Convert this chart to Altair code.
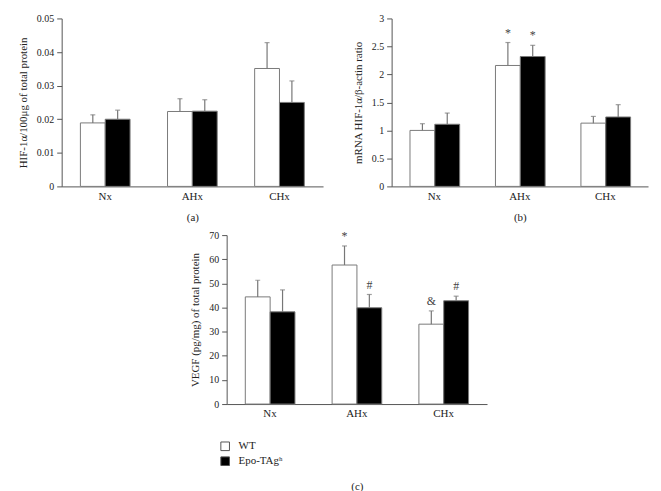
import altair as alt
import pandas as pd

groups = ["Nx", "AHx", "CHx"]
series = ["WT", "Epo-TAgʰ"]

# Panel (a): HIF-1α protein
a_wt = [0.0189, 0.0223, 0.0351]
a_wt_err = [0.0213, 0.0261, 0.0428]
a_epo = [0.0200, 0.0224, 0.0250]
a_epo_err = [0.0227, 0.0258, 0.0314]
a_wt_mark = ["", "", ""]
a_epo_mark = ["", "", ""]

# Panel (b): mRNA HIF-1α/β-actin
b_wt = [1.00, 2.16, 1.13]
b_wt_err = [1.12, 2.57, 1.25]
b_epo = [1.11, 2.32, 1.24]
b_epo_err = [1.31, 2.52, 1.46]
b_wt_mark = ["", "*", ""]
b_epo_mark = ["", "*", ""]

# Panel (c): VEGF
c_wt = [44.4, 57.6, 33.1]
c_wt_err = [51.3, 65.5, 38.6]
c_epo = [38.2, 39.9, 42.8]
c_epo_err = [47.3, 45.4, 44.7]
c_wt_mark = ["", "*", "&"]
c_epo_mark = ["", "#", "#"]

FONT = "Liberation Serif"
TXT = "#222"
AX = "#555"


def make_df(wt, wt_err, epo, epo_err, wt_mark, epo_mark):
    rows = []
    for i, g in enumerate(groups):
        rows.append({"group": g, "series": series[0], "value": wt[i], "upper": wt_err[i], "mark": wt_mark[i]})
        rows.append({"group": g, "series": series[1], "value": epo[i], "upper": epo_err[i], "mark": epo_mark[i]})
    return pd.DataFrame(rows)


def panel(df, ymax, step, ytitle, caption, width, height, cap_pad, legend=False):
    xenc = alt.X(
        "group:N", sort=groups,
        scale=alt.Scale(paddingInner=0.43, paddingOuter=0.215),
        axis=alt.Axis(title=caption, labelAngle=0, ticks=False, labelPadding=4,
                      titlePadding=cap_pad, labelFont=FONT, titleFont=FONT,
                      labelFontSize=11, titleFontSize=11, titleFontWeight="normal",
                      labelColor=TXT, titleColor=TXT, domainColor=AX),
    )
    xoff = alt.XOffset("series:N", sort=series, scale=alt.Scale(paddingInner=0, paddingOuter=0))
    n = int(round(ymax / step))
    vals = [round(i * step, 4) for i in range(n + 1)]
    yscale = alt.Scale(domain=[0, ymax], nice=False)
    yaxis = alt.Axis(title=ytitle, values=vals, format="~r", tickSize=5, labelPadding=3,
                     titlePadding=8, grid=False, labelFont=FONT, titleFont=FONT,
                     labelOverlap=False,
                     labelFontSize=10, titleFontSize=11, titleFontWeight="normal",
                     labelColor=TXT, titleColor=TXT, domainColor=AX, tickColor=AX)
    if legend:
        leg = alt.Legend(title=None, orient="none", legendX=159, legendY=207,
                         symbolType="square", symbolSize=75, symbolStrokeColor="#555",
                         symbolStrokeWidth=1, labelFont=FONT, labelFontSize=11,
                         labelColor=TXT, rowPadding=2, labelOffset=8)
    else:
        leg = None
    fill = alt.Fill("series:N", sort=series,
                    scale=alt.Scale(domain=series, range=["white", "black"]), legend=leg)
    base = alt.Chart(df)
    bars = base.mark_bar(stroke="#7a7a7a", strokeWidth=1).encode(
        x=xenc, xOffset=xoff, y=alt.Y("value:Q", scale=yscale, axis=yaxis), fill=fill)
    rules = base.mark_rule(color="#777", strokeWidth=1.2).encode(
        x=xenc, xOffset=xoff, y=alt.Y("value:Q", scale=yscale, axis=yaxis), y2="upper:Q")
    caps = base.mark_tick(color="#777", size=5, thickness=1.2).encode(
        x=xenc, xOffset=xoff, y=alt.Y("upper:Q", scale=yscale, axis=yaxis))
    txt = base.mark_text(font=FONT, fontSize=12, color="#444", baseline="bottom", dy=-3).encode(
        x=xenc, xOffset=xoff, y=alt.Y("upper:Q", scale=yscale, axis=yaxis), text="mark:N")
    return alt.layer(bars, rules, caps, txt).properties(width=width, height=height)


dfa = make_df(a_wt, a_wt_err, a_epo, a_epo_err, a_wt_mark, a_epo_mark)
dfb = make_df(b_wt, b_wt_err, b_epo, b_epo_err, b_wt_mark, b_epo_mark)
dfc = make_df(c_wt, c_wt_err, c_epo, c_epo_err, c_wt_mark, c_epo_mark)

pa = panel(dfa, 0.05, 0.01, "HIF-1α/100μg of total protein", "(a)", 263, 169, 10)
pb = panel(dfb, 3, 0.5, "mRNA HIF-1α/β-actin ratio", "(b)", 258, 169, 10)
pc = panel(dfc, 70, 10, "VEGF (pg/mg) of total protein", "(c)", 262, 170, 62, legend=True)

spacer = alt.Chart(pd.DataFrame({"v": [0]})).mark_point(opacity=0).encode(
    x=alt.X("v:Q", axis=None), y=alt.Y("v:Q", axis=None)).properties(width=129, height=10)

top = alt.hconcat(pa, pb, spacing=29)
bottom = alt.hconcat(spacer, pc, spacing=0)

chart = alt.vconcat(top, bottom, spacing=7).resolve_scale(
    fill="independent"
).properties(
    padding={"left": 9, "top": 4, "right": 5, "bottom": 2}
).configure_view(stroke=None)

chart.save("out.html", embed_options={"renderer": "svg", "actions": False})
